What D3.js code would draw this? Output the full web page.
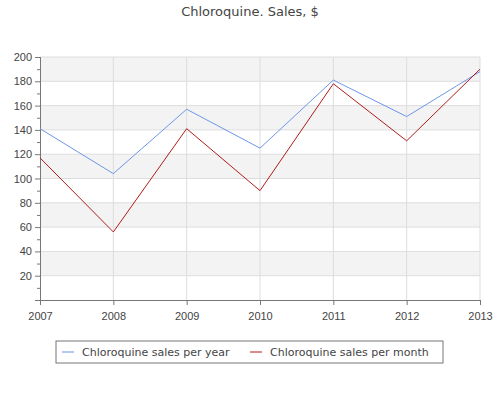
<!doctype html>
<html>
<head>
<meta charset="utf-8">
<script src="https://cdn.jsdelivr.net/npm/d3@7"></script>
<style>
body { margin: 0; background: #fff; font-family: "DejaVu Sans", sans-serif; }
text { fill: #444; font-size: 11px; }
</style>
</head>
<body>
<svg width="500" height="400"></svg>
<script>
var years = [2007, 2008, 2009, 2010, 2011, 2012, 2013];
var perYear = [141, 104, 157, 125, 181, 151, 188];
var perMonth = [117, 56, 141, 90, 178, 131, 190];
var yTicks = [20, 40, 60, 80, 100, 120, 140, 160, 180, 200];

var svg = d3.select("svg");
var x = d3.scaleLinear().domain([2007, 2013]).range([40, 480]);
var y = d3.scaleLinear().domain([0, 200]).range([300, 57]);

svg.append("text").attr("x", 250).attr("y", 16).attr("text-anchor", "middle")
  .style("font-size", "13px").text("Chloroquine. Sales, $");

// bands
for (var v = 0; v < 200; v += 20) {
  svg.append("rect").attr("x", 40).attr("width", 440)
    .attr("y", y(v + 20)).attr("height", y(v) - y(v + 20))
    .attr("fill", (v / 20) % 2 === 1 ? "#f3f3f3" : "#fff");
}
// grid
svg.selectAll(".hg").data(yTicks).enter().append("line")
  .attr("x1", 40).attr("x2", 480).attr("y1", d => y(d)).attr("y2", d => y(d))
  .attr("stroke", "#ddd");
svg.selectAll(".vg").data(years.slice(1)).enter().append("line")
  .attr("x1", d => x(d)).attr("x2", d => x(d)).attr("y1", 57).attr("y2", 300)
  .attr("stroke", "#ddd");

var yAxis = svg.append("g").attr("transform", "translate(40,0)")
  .call(d3.axisLeft(y).tickValues(yTicks).tickSize(5).tickFormat(d3.format("d")));
svg.append("g").attr("transform", "translate(40,0)")
  .call(d3.axisLeft(y).tickValues(d3.range(10, 200, 20)).tickSize(3).tickFormat(""));
var xAxis = svg.append("g").attr("transform", "translate(0,300)")
  .call(d3.axisBottom(x).tickValues(years).tickSize(5).tickFormat(d3.format("d")));
svg.selectAll(".domain, .tick line").attr("stroke", "#777");
svg.selectAll(".tick text").style("font-size", "11px").attr("fill", "#444");
xAxis.selectAll(".tick text").attr("dy", "1.1em");

var line = d3.line().x((d, i) => x(years[i])).y(d => y(d));
svg.append("path").datum(perYear).attr("d", line).attr("fill", "none").attr("stroke", "#6d97e8").attr("stroke-width", 1);
svg.append("path").datum(perMonth).attr("d", line).attr("fill", "none").attr("stroke", "#b01c1c").attr("stroke-width", 1);

// legend
var lg = svg.append("g");
lg.append("rect").attr("x", 56).attr("y", 341).attr("width", 387).attr("height", 22)
  .attr("fill", "#fff").attr("stroke", "#777");
var items = [["Chloroquine sales per year", "#6d97e8", 62], ["Chloroquine sales per month", "#b01c1c", 250]];
items.forEach(function (it) {
  lg.append("line").attr("x1", it[2]).attr("x2", it[2] + 12).attr("y1", 352).attr("y2", 352).attr("stroke", it[1]);
  lg.append("text").attr("x", it[2] + 20).attr("y", 356).text(it[0]);
});
</script>
</body>
</html>
